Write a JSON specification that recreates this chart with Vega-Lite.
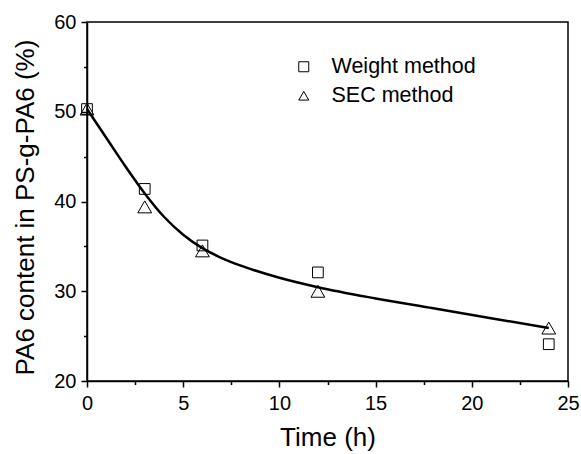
{
  "$schema": "https://vega.github.io/schema/vega-lite/v6.json",
  "width": 481,
  "height": 359,
  "autosize": {"type": "none"},
  "padding": {"left": 87, "top": 22, "right": 13, "bottom": 73},
  "background": "white",
  "config": {
    "font": "Liberation Sans",
    "view": {"stroke": "black", "strokeWidth": 1.5},
    "axis": {
      "grid": false,
      "domainColor": "black",
      "domainWidth": 1.5,
      "tickColor": "black",
      "tickWidth": 1.5,
      "labelColor": "black",
      "titleColor": "black",
      "labelFont": "Liberation Sans",
      "titleFont": "Liberation Sans",
      "labelFlush": false,
      "labelOverlap": false
    }
  },
  "datasets": {
    "pts": [
      {"t": 0, "v": 50.3, "method": "Weight method"},
      {"t": 3, "v": 41.4, "method": "Weight method"},
      {"t": 6, "v": 35.1, "method": "Weight method"},
      {"t": 12, "v": 32.1, "method": "Weight method"},
      {"t": 24, "v": 24.1, "method": "Weight method"},
      {"t": 0, "v": 50.3, "method": "SEC method"},
      {"t": 3, "v": 39.4, "method": "SEC method"},
      {"t": 6, "v": 34.5, "method": "SEC method"},
      {"t": 12, "v": 30.0, "method": "SEC method"},
      {"t": 24, "v": 25.9, "method": "SEC method"}
    ],
    "fit": [
      {"t": 0, "v": 50.3},
      {"t": 1, "v": 47.1},
      {"t": 2, "v": 43.9},
      {"t": 3, "v": 40.9},
      {"t": 4, "v": 38.3},
      {"t": 5, "v": 36.3},
      {"t": 6, "v": 34.8},
      {"t": 7, "v": 33.7},
      {"t": 8, "v": 32.85},
      {"t": 10, "v": 31.5},
      {"t": 12, "v": 30.45},
      {"t": 15, "v": 29.2},
      {"t": 18, "v": 28.1},
      {"t": 21, "v": 27.0},
      {"t": 24, "v": 25.9}
    ]
  },
  "layer": [
    {
      "data": {"name": "fit"},
      "mark": {"type": "line", "interpolate": "monotone", "color": "black", "strokeWidth": 2.5},
      "encoding": {
        "x": {
          "field": "t", "type": "quantitative",
          "scale": {"domain": [0, 25], "nice": false, "zero": false},
          "axis": {
            "orient": "bottom",
            "values": [0, 5, 10, 15, 20, 25],
            "tickSize": 6,
            "labelPadding": 6,
            "labelFontSize": 20,
            "title": "Time (h)",
            "titleFontSize": 26,
            "titleFontWeight": "normal",
            "titleBaseline": "alphabetic",
            "titleY": 64
          }
        },
        "y": {
          "field": "v", "type": "quantitative",
          "scale": {"domain": [20, 60], "nice": false, "zero": false},
          "axis": {
            "orient": "left",
            "values": [20, 30, 40, 50, 60],
            "tickSize": 6,
            "labelPadding": 5,
            "labelFontSize": 20,
            "title": "PA6 content in PS-g-PA6 (%)",
            "titleFontSize": 26,
            "titleFontWeight": "normal",
            "titleAngle": -90,
            "titleBaseline": "alphabetic",
            "titleAlign": "center",
            "titleX": -54,
            "titleY": 185
          }
        }
      }
    },
    {
      "data": {"name": "pts"},
      "transform": [{"filter": "datum.method === 'Weight method'"}],
      "mark": {"type": "point", "filled": false, "stroke": "black", "strokeWidth": 1, "opacity": 1, "size": 115},
      "encoding": {
        "x": {
          "field": "t", "type": "quantitative",
          "scale": {"domain": [0, 25], "nice": false, "zero": false},
          "axis": {
            "orient": "bottom",
            "values": [2.5, 7.5, 12.5, 17.5, 22.5],
            "tickSize": 3.5,
            "labels": false,
            "domain": false,
            "title": null
          }
        },
        "y": {
          "field": "v", "type": "quantitative",
          "scale": {"domain": [20, 60], "nice": false, "zero": false},
          "axis": {
            "orient": "left",
            "values": [25, 35, 45, 55],
            "tickSize": 3.5,
            "labels": false,
            "domain": false,
            "title": null
          }
        },
        "shape": {
          "field": "method", "type": "nominal",
          "scale": {"domain": ["Weight method", "SEC method"], "range": ["square", "triangle-up"]},
          "legend": {
            "orient": "none",
            "legendX": 206,
            "legendY": 34,
            "title": null,
            "padding": 0,
            "labelFontSize": 21.5,
            "labelFont": "Liberation Sans",
            "labelColor": "black",
            "labelOffset": 17,
            "rowPadding": 6,
            "symbolSize": 100,
            "symbolStrokeColor": "black",
            "symbolFillColor": "transparent",
            "symbolStrokeWidth": 1
          }
        }
      }
    },
    {
      "data": {"name": "pts"},
      "transform": [{"filter": "datum.method === 'SEC method'"}],
      "mark": {"type": "point", "filled": false, "stroke": "black", "strokeWidth": 1, "opacity": 1, "size": 190},
      "encoding": {
        "x": {
          "field": "t", "type": "quantitative",
          "scale": {"domain": [0, 25], "nice": false, "zero": false},
          "axis": null
        },
        "y": {
          "field": "v", "type": "quantitative",
          "scale": {"domain": [20, 60], "nice": false, "zero": false},
          "axis": null
        },
        "shape": {
          "field": "method", "type": "nominal",
          "scale": {"domain": ["Weight method", "SEC method"], "range": ["square", "triangle-up"]}
        }
      }
    }
  ],
  "resolve": {"axis": {"x": "independent", "y": "independent"}}
}
